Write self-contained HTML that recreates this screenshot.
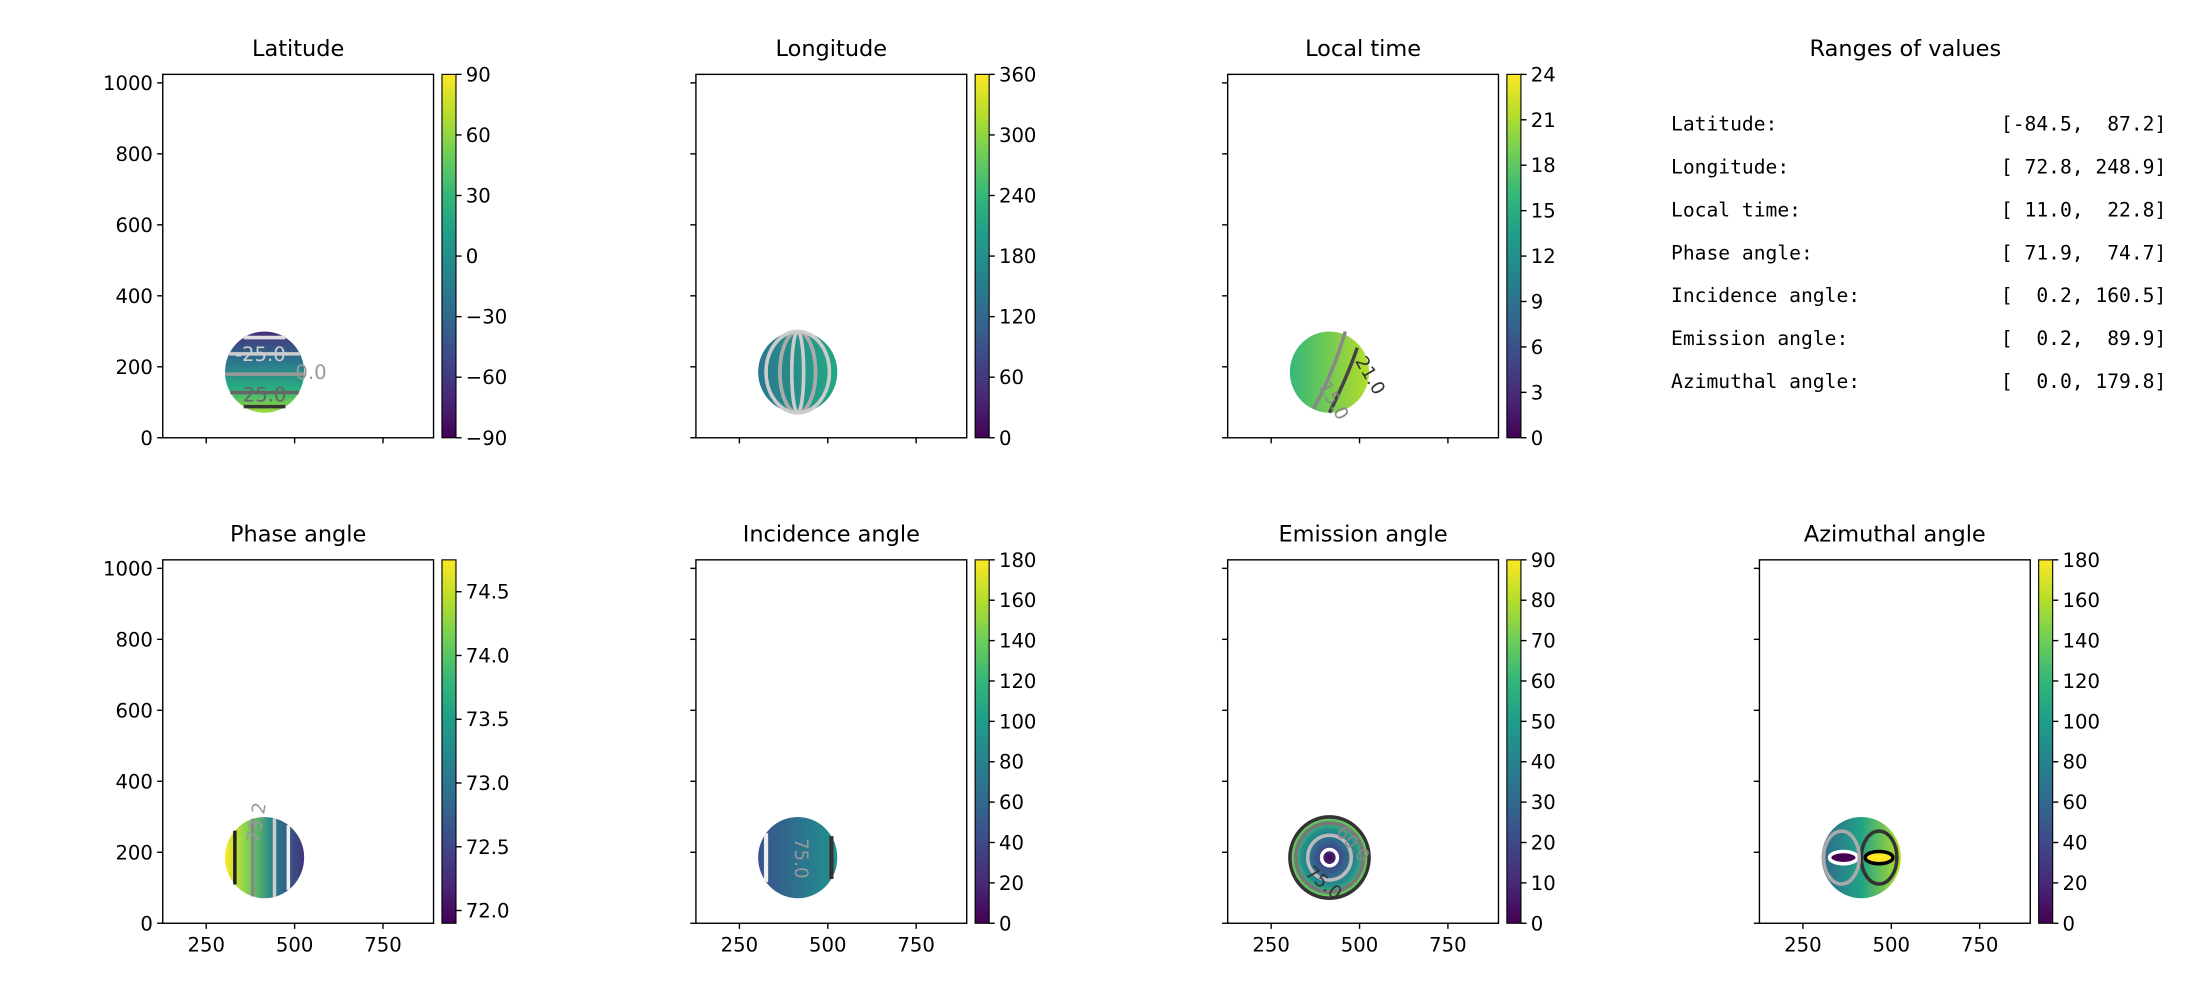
<!DOCTYPE html>
<html><head><meta charset="utf-8"><style>
html,body{margin:0;padding:0;background:#fff;}
svg{display:block;}
text{font-family:"DejaVu Sans","Liberation Sans",sans-serif;}
.mono{font-family:"DejaVu Sans Mono","Liberation Mono",monospace;}
</style></head><body>
<svg id="fig" width="2200" height="1000" viewBox="0 0 1568 712.7" preserveAspectRatio="none" xmlns="http://www.w3.org/2000/svg">
<defs>
<linearGradient id="viridis" x1="0" y1="1" x2="0" y2="0">
<stop offset="0" stop-color="#440154"/><stop offset="0.11" stop-color="#482878"/><stop offset="0.22" stop-color="#3e4989"/><stop offset="0.33" stop-color="#31688e"/><stop offset="0.44" stop-color="#26828e"/><stop offset="0.56" stop-color="#1f9e89"/><stop offset="0.67" stop-color="#35b779"/><stop offset="0.78" stop-color="#6ece58"/><stop offset="0.89" stop-color="#b5de2b"/><stop offset="1" stop-color="#fde725"/>
</linearGradient>
<linearGradient id="g-lat" x1="0" y1="0" x2="0" y2="1"><stop offset="0" stop-color="#472d7b"/><stop offset="0.35" stop-color="#2c728e"/><stop offset="0.7" stop-color="#27ad81"/><stop offset="1" stop-color="#9fda3a"/></linearGradient>
<linearGradient id="g-lon" x1="0" y1="0" x2="1" y2="0"><stop offset="0" stop-color="#2a788e"/><stop offset="1" stop-color="#22a884"/></linearGradient>
<linearGradient id="g-lt" x1="0" y1="0" x2="1" y2="0"><stop offset="0" stop-color="#35b779"/><stop offset="1" stop-color="#b5de2b"/></linearGradient>
<linearGradient id="g-ph" x1="0" y1="0" x2="1" y2="0"><stop offset="0" stop-color="#fde725"/><stop offset="0.3" stop-color="#7ad151"/><stop offset="0.6" stop-color="#26828e"/><stop offset="1" stop-color="#46327e"/></linearGradient>
<linearGradient id="g-inc" x1="0" y1="0" x2="1" y2="0"><stop offset="0" stop-color="#3b528b"/><stop offset="0.5" stop-color="#2c728e"/><stop offset="1" stop-color="#21918c"/></linearGradient>
<radialGradient id="g-em"><stop offset="0" stop-color="#440154"/><stop offset="0.3" stop-color="#3b528b"/><stop offset="0.7" stop-color="#21918c"/><stop offset="1" stop-color="#7ad151"/></radialGradient>
<linearGradient id="g-az" x1="0" y1="0" x2="1" y2="0"><stop offset="0" stop-color="#31688e"/><stop offset="0.5" stop-color="#20a386"/><stop offset="1" stop-color="#b5de2b"/></linearGradient>
</defs>
</svg>
<script>
// data
const panelTitles = ["Latitude","Longitude","Local time","Phase angle","Incidence angle","Emission angle","Azimuthal angle"];
const cbMin = [-90,0,0,71.9,0,0,0];
const cbMax = [90,360,24,74.75,180,90,180];
const cbTicks = [[-90,-60,-30,0,30,60,90],[0,60,120,180,240,300,360],[0,3,6,9,12,15,18,21,24],[72.0,72.5,73.0,73.5,74.0,74.5],[0,20,40,60,80,100,120,140,160,180],[0,10,20,30,40,50,60,70,80,90],[0,20,40,60,80,100,120,140,160,180]];
const xTicks = [250,500,750];
const yTicks = [0,200,400,600,800,1000];
const rangeNames = ["Latitude:","Longitude:","Local time:","Phase angle:","Incidence angle:","Emission angle:","Azimuthal angle:"];
const rangeLo = [-84.5,72.8,11.0,71.9,0.2,0.2,0.0];
const rangeHi = [87.2,248.9,22.8,74.7,160.5,89.9,179.8];
const diskCenter = [415,185];
const diskRadius = [112,115];

const NS="http://www.w3.org/2000/svg";
const svg=document.getElementById('fig');
function el(tag,attrs,parent,text){const e=document.createElementNS(NS,tag);for(const k in attrs)e.setAttribute(k,attrs[k]);if(text!==undefined)e.textContent=text;(parent||svg).appendChild(e);return e;}
const colLeft=[116,496,875,1254], rowTop=[53,399], W=193, H=259;
const xMin=127,xMax=893,yMax=1024;
const grads=["g-lat","g-lon","g-lt","g-ph","g-inc","g-em","g-az"];
const slots=[[0,0],[0,1],[0,2],[1,0],[1,1],[1,2],[1,3]];
function fmt(v,i){ if(i===3) return v.toFixed(1); return (v<0?"\u2212"+Math.abs(v):String(v)); }

slots.forEach((s,i)=>{
  const r=s[0],c=s[1],L=colLeft[c],T=rowTop[r],B=T+H;
  const X=d=>L+(d-xMin)/(xMax-xMin)*W, Y=d=>B-d/yMax*H, sc=W/(xMax-xMin);
  const g=el('g',{});
  
  
  const t=el('text',{x:L+W/2,y:T-13,'text-anchor':'middle','font-size':16},g,panelTitles[i]);
  
  
  const cx=X(diskCenter[0]),cy=Y(diskCenter[1]),rx=diskRadius[0]*sc,ry=diskRadius[1]*sc;
  const d=el('ellipse',{cx:cx,cy:cy,rx:rx,ry:ry,fill:'url(#'+grads[i]+')'},g);
  
  
  const cl=el('g',{fill:'none','stroke-width':2.5},g);
  
  
  if(i===0){[[-0.85,'#ddd'],[-0.45,'#ccc'],[0.05,'#999'],[0.5,'#666'],[0.85,'#333']].forEach(p=>{const yy=cy+p[0]*ry;const hw=Math.sqrt(1-p[0]*p[0])*rx;el('line',{x1:cx-hw,y1:yy,x2:cx+hw,y2:yy,stroke:p[1]},cl);});
    el('text',{x:cx-3,y:cy-8,'text-anchor':'middle','font-size':14,fill:'#ccc'},g,"-25.0");
    el('text',{x:cx+22,y:cy+5,'font-size':14,fill:'#999'},g,"0.0");
    el('text',{x:cx,y:cy+21,'text-anchor':'middle','font-size':14,fill:'#666'},g,"25.0");}
  if(i===1){[-0.8,-0.45,-0.15,0.15,0.45,0.8].forEach((f,k)=>{el('ellipse',{cx:cx,cy:cy,rx:Math.abs(f)*rx,ry:ry,stroke:k%2?'#ccc':'#aaa'},cl);});}
  if(i===2){el('path',{d:`M${cx+rx*0.4} ${cy-ry} Q${cx+rx*0.1} ${cy} ${cx-rx*0.4} ${cy+ry*0.9}`,stroke:'#888'},cl);
    el('path',{d:`M${cx+rx*0.7} ${cy-ry*0.6} Q${cx+rx*0.5} ${cy} ${cx} ${cy+ry}`,stroke:'#444'},cl);
    el('text',{x:cx+18,y:cy-8,'font-size':13,fill:'#333',transform:`rotate(60 ${cx+18} ${cy-8})`},g,"21.0");
    el('text',{x:cx-8,y:cy+10,'font-size':13,fill:'#888',transform:`rotate(60 ${cx-8} ${cy+10})`},g,"15.0");}
  if(i===3){[[-0.75,'#222'],[-0.3,'#888'],[0.25,'#ccc'],[0.6,'#eee']].forEach(p=>{const xx=cx+p[0]*rx;const hh=Math.sqrt(1-p[0]*p[0])*ry;el('line',{x1:xx,y1:cy-hh,x2:xx,y2:cy+hh,stroke:p[1]},cl);});
    el('text',{x:cx-4,y:cy-10,'font-size':13,fill:'#999',transform:`rotate(-80 ${cx-4} ${cy-10})`},g,"73.2");}
  if(i===4){[[-0.8,'#eee'],[0.85,'#333']].forEach(p=>{const xx=cx+p[0]*rx;const hh=Math.sqrt(1-p[0]*p[0])*ry;el('line',{x1:xx,y1:cy-hh,x2:xx,y2:cy+hh,stroke:p[1],'stroke-width':3},cl);});
    el('text',{x:cx-2,y:cy-14,'font-size':13,fill:'#999',transform:`rotate(90 ${cx-2} ${cy-14})`},g,"75.0");}
  if(i===5){[[0.2,'#fff'],[0.55,'#bbb'],[0.85,'#777'],[1.0,'#333']].forEach(p=>{el('ellipse',{cx:cx,cy:cy,rx:p[0]*rx,ry:p[0]*ry,stroke:p[1]},cl);});
    el('text',{x:cx-18,y:cy+12,'font-size':13,fill:'#333',transform:`rotate(40 ${cx-18} ${cy+12})`},g,"75.0");
    el('text',{x:cx+4,y:cy-18,'font-size':13,fill:'#888',transform:`rotate(50 ${cx+4} ${cy-18})`},g,"60.0");}
  if(i===6){el('ellipse',{cx:cx-rx*0.45,cy:cy,rx:rx*0.35,ry:ry*0.15,fill:'#440154',stroke:'#fff'},cl);
    el('ellipse',{cx:cx+rx*0.45,cy:cy,rx:rx*0.35,ry:ry*0.15,fill:'#fde725',stroke:'#000'},cl);
    el('ellipse',{cx:cx+rx*0.45,cy:cy,rx:rx*0.45,ry:ry*0.65,stroke:'#333'},cl);
    el('ellipse',{cx:cx-rx*0.5,cy:cy,rx:rx*0.45,ry:ry*0.65,stroke:'#aaa'},cl);}
  const f=el('rect',{x:L,y:T,width:W,height:H,fill:'none',stroke:'#000','stroke-width':1},g);
  
  
  xTicks.forEach(v=>{el('line',{x1:X(v),y1:B,x2:X(v),y2:B+4,stroke:'#000'},g);
    if(r===1){const tx=el('text',{x:X(v),y:B+20,'text-anchor':'middle','font-size':14},g,String(v));
      
      }});
  yTicks.forEach(v=>{el('line',{x1:L-4,y1:Y(v),x2:L,y2:Y(v),stroke:'#000'},g);
    if(c===0){const ty=el('text',{x:L-7,y:Y(v)+5,'text-anchor':'end','font-size':14},g,String(v));
      
      }});
  const cbx=L+W+6;
  const cb=el('rect',{x:cbx,y:T,width:10,height:H,fill:'url(#viridis)',stroke:'#000','stroke-width':0.8},g);
  
  
  cbTicks[i].forEach(v=>{const yy=B-(v-cbMin[i])/(cbMax[i]-cbMin[i])*H;
    el('line',{x1:cbx+10,y1:yy,x2:cbx+14,y2:yy,stroke:'#000'},g);
    const tl=el('text',{x:cbx+17,y:yy+5,'font-size':14},g,fmt(v,i));
    
    });
});
const rt=el('text',{x:1358,y:40,'text-anchor':'middle','font-size':16},svg,"Ranges of values");


rangeNames.forEach((n,k)=>{const y=93+k*30.6;
  const a=el('text',{x:1191,y:y,'font-size':14,class:'mono'},svg,n);
  
  
  const f=v=>{let s=v.toFixed(1);while(s.length<5)s=" "+s;return s;};
  const b=el('text',{x:1544,y:y,'font-size':14,'text-anchor':'end',class:'mono'},svg,"["+f(rangeLo[k])+", "+f(rangeHi[k])+"]");
  b.setAttribute('style','white-space:pre');
  
  });
</script>
</body></html>
